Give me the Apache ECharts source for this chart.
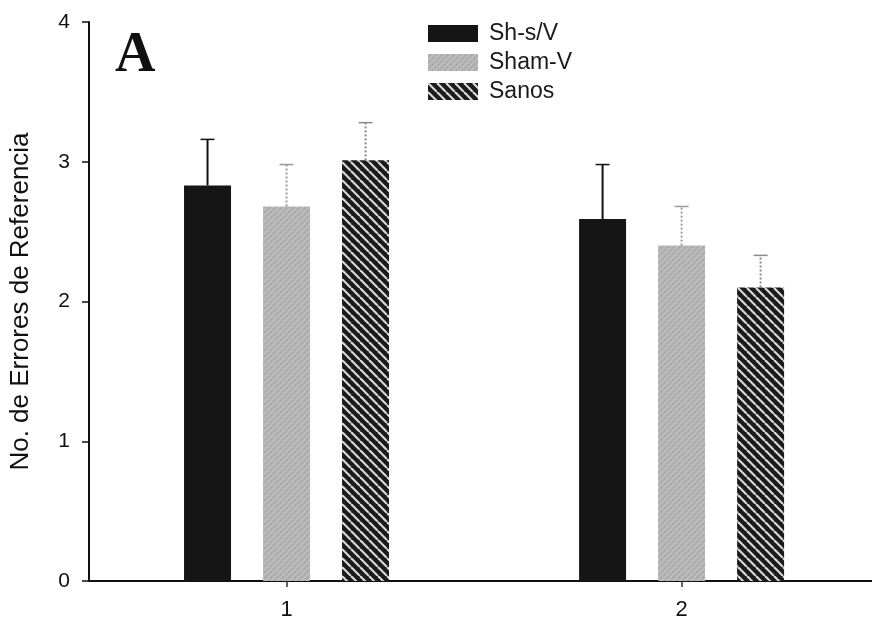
<!DOCTYPE html>
<html>
<head>
<meta charset="utf-8">
<script src="https://cdn.jsdelivr.net/npm/echarts@6/dist/echarts.min.js"></script>
<style>
  html, body { margin: 0; padding: 0; background: #fff; }
  #chart { width: 872px; height: 622px; }
</style>
</head>
<body>
<div id="chart"></div>
<script>
// Sesiones (eje X) y media ± error estándar de cada grupo
const sesiones = [1, 2];
const seriesNames = ['Sh-s/V', 'Sham-V', 'Sanos'];
const mediaShs = [2.83, 2.59];
const errShs = [0.33, 0.39];
const mediaSham = [2.68, 2.40];
const errSham = [0.30, 0.28];
const mediaSanos = [3.01, 2.10];
const errSanos = [0.27, 0.23];
const yTicks = [0, 1, 2, 3, 4];

const FONT = 'Liberation Sans, Arial, sans-serif';
const BAR_W = 47;
const BAR_GAP = 32;

// Texturas de relleno
function makePattern(size, draw) {
  const c = document.createElement('canvas');
  c.width = size; c.height = size;
  draw(c.getContext('2d'), size);
  return { image: c, repeat: 'repeat' };
}
const grayFill = makePattern(6, (ctx, s) => {
  ctx.fillStyle = '#b2b2b2';
  ctx.fillRect(0, 0, s, s);
  ctx.strokeStyle = '#c6c6c6';
  ctx.lineWidth = 1;
  for (let c = -s; c <= s; c += s) {
    ctx.beginPath(); ctx.moveTo(c, s); ctx.lineTo(c + s, 0); ctx.stroke();
  }
  ctx.fillStyle = '#9e9e9e';
  ctx.fillRect(1, 1, 1, 1);
  ctx.fillRect(4, 4, 1, 1);
});
const stripeFill = makePattern(9, (ctx, s) => {
  ctx.fillStyle = '#1b1b1b';
  ctx.fillRect(0, 0, s, s);
  ctx.strokeStyle = '#d8d8d8';
  ctx.lineWidth = 2.2;
  for (let c = -s; c <= s; c += s) {
    ctx.beginPath(); ctx.moveTo(c, 0); ctx.lineTo(c + s, s); ctx.stroke();
  }
});

const groups = [
  { name: seriesNames[0], mean: mediaShs, err: errShs, fill: '#151515',
    errStyle: { stroke: '#111', lineWidth: 2 } },
  { name: seriesNames[1], mean: mediaSham, err: errSham, fill: grayFill,
    errStyle: { stroke: '#9a9a9a', lineWidth: 2, lineDash: [2, 2] } },
  { name: seriesNames[2], mean: mediaSanos, err: errSanos, fill: stripeFill,
    errStyle: { stroke: '#8a8a8a', lineWidth: 2, lineDash: [2, 2] } }
];

const barSeries = groups.map(g => ({
  name: g.name,
  type: 'bar',
  data: g.mean.map((m, i) => [sesiones[i], m]),
  barWidth: BAR_W,
  barGap: (BAR_GAP / BAR_W * 100).toFixed(1) + '%',
  itemStyle: { color: g.fill },
  z: 2
}));

// Barras de error superiores, desplazadas al centro de cada barra
const errorSeries = groups.map((g, k) => ({
  name: g.name + ' error',
  type: 'custom',
  z: 3,
  silent: true,
  data: g.mean.map((m, i) => [sesiones[i], m, m + g.err[i]]),
  renderItem: (params, api) => {
    const off = (k - 1) * (BAR_W + BAR_GAP);
    const base = api.coord([api.value(0), api.value(1)]);
    const top = api.coord([api.value(0), api.value(2)]);
    const x = base[0] + off;
    const capHalf = 7;
    return {
      type: 'group',
      children: [
        { type: 'line', shape: { x1: x, y1: base[1], x2: x, y2: top[1] }, style: g.errStyle },
        { type: 'line', shape: { x1: x - capHalf, y1: top[1], x2: x + capHalf, y2: top[1] },
          style: Object.assign({}, g.errStyle, { lineDash: null, lineWidth: 1.5 }) }
      ]
    };
  }
}));

const chart = echarts.init(document.getElementById('chart'), null, { renderer: 'canvas' });
chart.setOption({
  animation: false,
  backgroundColor: '#fff',
  title: {
    text: 'A',
    left: 110,
    top: 24,
    textStyle: { fontFamily: 'Liberation Serif, Times New Roman, serif', fontWeight: 'bold', fontSize: 56, color: '#111' }
  },
  legend: {
    data: seriesNames,
    orient: 'vertical',
    icon: 'rect',
    left: 423,
    top: 17,
    itemWidth: 50,
    itemHeight: 17,
    itemGap: 6,
    textStyle: { fontFamily: FONT, fontSize: 23, color: '#1a1a1a', padding: [0, 0, 0, 6], lineHeight: 23 }
  },
  grid: { left: 87, top: 22, right: 0, bottom: 41 },
  xAxis: {
    type: 'value',
    min: 0.5,
    max: 2.482,
    splitLine: { show: false },
    axisLine: { lineStyle: { color: '#111', width: 2 } },
    axisTick: { customValues: sesiones, length: 6, lineStyle: { color: '#333', width: 1.5 } },
    axisLabel: { customValues: sesiones, fontFamily: FONT, fontSize: 22, color: '#111', margin: 18 }
  },
  yAxis: {
    type: 'value',
    min: yTicks[0],
    max: yTicks[yTicks.length - 1],
    interval: 1,
    name: 'No. de Errores de Referencia',
    nameLocation: 'middle',
    nameGap: 55,
    nameTextStyle: { fontFamily: FONT, fontSize: 26, color: '#111' },
    axisLine: { show: true, lineStyle: { color: '#111', width: 2 } },
    axisTick: { show: true, length: 7, lineStyle: { color: '#111', width: 1.5 } },
    splitLine: { show: false },
    axisLabel: { fontFamily: FONT, fontSize: 21, color: '#111', margin: 19 }
  },
  series: barSeries.concat(errorSeries)
});
</script>
</body>
</html>
